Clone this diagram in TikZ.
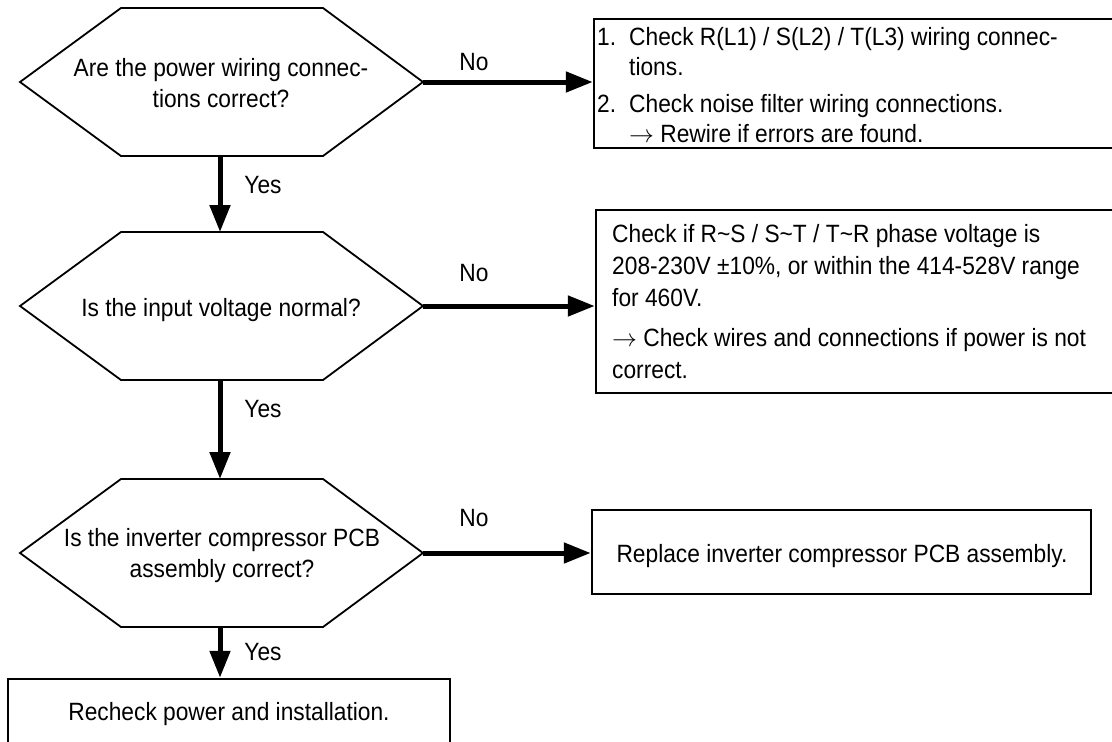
\documentclass[tikz,border=0pt]{standalone}
\usepackage{fontspec}
\setmainfont{Liberation Sans}[FakeStretch=0.91]
\usetikzlibrary{arrows.meta}
\begin{document}
\begin{tikzpicture}[x=1pt,y=-1pt,
  hexline/.style={line width=1.8pt, line join=miter},
  boxnode/.style={draw, line width=2.5pt, inner sep=0pt, rectangle},
  conn/.style={line width=5pt, -{Triangle[length=27pt,width=20pt]}},
  txt/.style={inner sep=0pt, font=\fontsize{25}{31}\selectfont},
  lbl/.style={inner sep=0pt, anchor=base, font=\fontsize{25}{31}\selectfont}]
\useasboundingbox (0,0) rectangle (1112,742);
\clip (0,0) rectangle (1112,742);

% ---- hexagon 1
\coordinate (h1w) at (20,82);
\coordinate (h1nw) at (121,8);
\coordinate (h1ne) at (323,8);
\coordinate (h1e) at (423,82);
\coordinate (h1se) at (323,156);
\coordinate (h1sw) at (121,156);
\coordinate (h1n) at (220,8);
\coordinate (h1s) at (220,156);
\draw[hexline] (h1w) -- (h1nw) -- (h1ne) -- (h1e) -- (h1se) -- (h1sw) -- cycle;
\node[txt, align=center, anchor=base] (q1) at (221,107) {Are the power wiring connec-\\tions correct?};

% ---- hexagon 2
\coordinate (h2w) at (20,306);
\coordinate (h2nw) at (121,232);
\coordinate (h2ne) at (323,232);
\coordinate (h2e) at (423,306);
\coordinate (h2se) at (323,380);
\coordinate (h2sw) at (121,380);
\coordinate (h2n) at (220,232);
\coordinate (h2s) at (220,380);
\draw[hexline] (h2w) -- (h2nw) -- (h2ne) -- (h2e) -- (h2se) -- (h2sw) -- cycle;
\node[txt, anchor=base] (q2) at (221,316) {Is the input voltage normal?};

% ---- hexagon 3
\coordinate (h3w) at (20,553);
\coordinate (h3nw) at (121,479);
\coordinate (h3ne) at (323,479);
\coordinate (h3e) at (423,553);
\coordinate (h3se) at (323,627);
\coordinate (h3sw) at (121,627);
\coordinate (h3n) at (220,479);
\coordinate (h3s) at (220,627);
\draw[hexline] (h3w) -- (h3nw) -- (h3ne) -- (h3e) -- (h3se) -- (h3sw) -- cycle;
\node[txt, align=center, anchor=base] (q3) at (222,577) {Is the inverter compressor PCB\\assembly correct?};

% ---- boxes
\node[boxnode, minimum width=556pt, minimum height=129pt] (b1) at (872,83.5) {};
\node[inner sep=0pt, anchor=base west, align=left, font=\fontsize{25}{30}\selectfont] (b1t) at (597,142)
  {\makebox[32pt][l]{1.}Check R(L1) / S(L2) / T(L3) wiring connec-\\
   \hspace*{32pt}tions.\\[7pt]
   \makebox[32pt][l]{2.}Check noise filter wiring connections.\\
   \hspace*{32pt}$\rightarrow$ Rewire if errors are found.};

\node[boxnode, minimum width=554pt, minimum height=183pt] (b2) at (873,301.5) {};
\node[inner sep=0pt, anchor=base west, align=left, font=\fontsize{25}{32}\selectfont] (b2t) at (612,378)
  {Check if R\textasciitilde S / S\textasciitilde T / T\textasciitilde R phase voltage is\\
   208-230V ±10\%, or within the 414-528V range\\
   for 460V.\\[8pt]
   $\rightarrow$ Check wires and connections if power is not\\
   correct.};

\node[boxnode, minimum width=499pt, minimum height=84pt] (b3) at (841.5,552) {};
\node[txt, anchor=base] (b3t) at (842,562) {Replace inverter compressor PCB assembly.};

\node[boxnode, minimum width=442pt, minimum height=111pt] (b4) at (229,734.5) {};
\node[txt, anchor=base] (b4t) at (229,720) {Recheck power and installation.};

% ---- connectors
\draw[conn] (h1e) -- (h1e -| b1.west);
\draw[conn] (h2e) -- (h2e -| b2.west);
\draw[conn] (h3e) -- (h3e -| b3.west);
\draw[conn] (h1s) -- (h2n);
\draw[conn] (h2s) -- (h3n);
\draw[conn] (h3s) -- (h3s |- b4.north);

% ---- labels
\node[lbl] (n1) at (474,70) {No};
\node[lbl] (n2) at (474,281) {No};
\node[lbl] (n3) at (474,526) {No};
\node[lbl] (y1) at (263,193) {Yes};
\node[lbl] (y2) at (263,417) {Yes};
\node[lbl] (y3) at (263,660) {Yes};
\end{tikzpicture}
\end{document}
